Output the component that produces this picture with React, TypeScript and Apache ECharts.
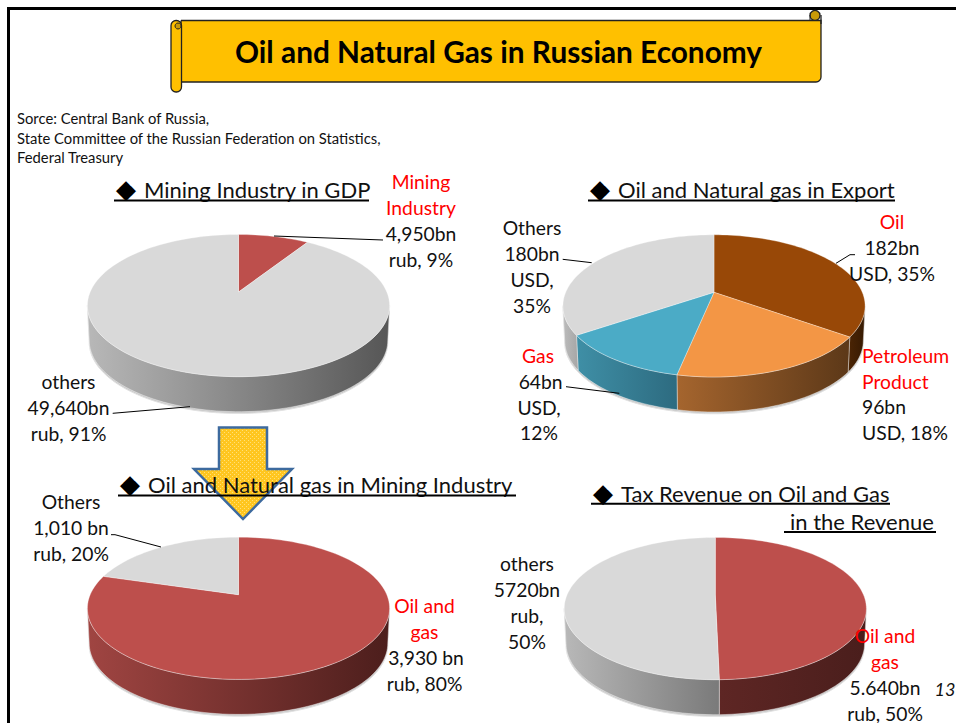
import React, { useEffect, useRef } from "react";
import * as echarts from "echarts";

// ---------- data ----------
const gdpValues = [4950, 49640];
const exportValues = [182, 96, 64, 180];
const miningValues = [3930, 1010];
const taxValues = [5640, 5720];

const titleText = "Oil and Natural Gas in Russian Economy";
const sourceLines = [
  "Sorce: Central Bank of Russia,",
  "State Committee of the Russian Federation on Statistics,",
  "Federal Treasury",
];
const pageNumber = "13";

const FONT = "Lato, Carlito, 'Open Sans', sans-serif";
const RED = "#ff0000";
const BLACK = "#111111";

// ---------- styling and layout ----------
const GEOM = { s: 148.3, k: 68.5, p: 0.191, depth: 35 };
const pies = [
  {
    name: "Mining Industry in GDP", values: gdpValues, ax: 238.5, ay: 292,
    top: ["#bd4f4c", "#d9d9d9"],
    side: [["#9a3f3c", "#4c1e1c"], ["#b8b8b8", "#565656"]],
  },
  {
    name: "Oil and Natural gas in Export", values: exportValues, ax: 714, ay: 292.3,
    top: ["#984807", "#f39645", "#4babc6", "#d9d9d9"],
    side: [["#4a2404", "#361a02"], ["#a5652e", "#5c3818"], ["#3f8fa6", "#2d6b80"], ["#bcbcbc", "#a8a8a8"]],
  },
  {
    name: "Oil and Natural gas in Mining Industry", values: miningValues, ax: 238.5, ay: 594.7,
    top: ["#bd4f4c", "#d9d9d9"],
    side: [["#a04542", "#4c1e1c"], ["#b8b8b8", "#565656"]],
  },
  {
    name: "Tax Revenue on Oil and Gas", values: taxValues, ax: 715.3, ay: 595,
    top: ["#bd4f4c", "#d9d9d9"],
    side: [["#5e2624", "#4a1e1c"], ["#b8b8b8", "#7a7a7a"]],
  },
];

type Lbl = [string, number, number, string?, string?];
const labels: Lbl[] = [
  ["Mining", 421, 182, RED], ["Industry", 421, 208, RED], ["4,950bn", 421, 234], ["rub, 9%", 421, 260],
  ["others", 68.5, 382], ["49,640bn", 68.5, 408], ["rub, 91%", 68.5, 434],
  ["Others", 532, 228], ["180bn", 532, 254], ["USD,", 532, 280], ["35%", 532, 306],
  ["Oil", 892, 222, RED], ["182bn", 892, 248], ["USD, 35%", 892, 274],
  ["Petroleum", 862, 356, RED, "left"], ["Product", 862, 381.6, RED, "left"], ["96bn", 862, 407, BLACK, "left"], ["USD, 18%", 862, 433, BLACK, "left"],
  ["Gas", 538, 356, RED], ["64bn", 540.6, 382], ["USD,", 539, 408], ["12%", 539, 433],
  ["Others", 71, 501.7], ["1,010 bn", 71, 527.5], ["rub, 20%", 71, 553.5],
  ["Oil and", 424.5, 605.7, RED], ["gas", 424.5, 631.5, RED], ["3,930 bn", 426, 657.5], ["rub, 80%", 424.5, 683.5],
  ["others", 527, 563.7], ["5720bn", 527, 590], ["rub,", 527, 616], ["50%", 527, 641.5],
  ["Oil and", 885, 635.7, RED], ["gas", 885, 661.5, RED], ["5.640bn", 885, 687.5], ["rub, 50%", 885, 713.5],
];

// text, text x, y, diamond centre x (0 = none), underline from, underline to, underline y
const headings: [string, number, number, number, number, number, number][] = [
  ["Mining Industry in GDP", 144, 190, 126, 114, 369, 200.5],
  ["Oil and Natural gas in Export", 618, 190, 600, 588, 895, 200.5],
  ["Oil and Natural gas in Mining Industry", 148, 485, 130, 118, 516, 495.5],
  ["Tax Revenue on Oil and Gas", 621, 493.7, 603, 591, 890, 503.7],
  ["in the Revenue", 790, 522, 0, 784, 936, 532],
];

const leaders: number[][][] = [
  [[274, 236], [383, 240]],
  [[112.7, 413.3], [190, 406.7]],
  [[562.7, 259.3], [591.7, 262.7]],
  [[855, 254.7], [850, 254.7], [836, 263.3]],
  [[566, 386.7], [619.3, 393.3]],
  [[111, 534.7], [115, 534.7], [161, 547]],
];

function rim(ax: number, ay: number, deg: number) {
  const t = (deg * Math.PI) / 180;
  const X = Math.sin(t), Y = Math.cos(t);
  const d = 1 + GEOM.p * Y;
  return [ax + (GEOM.s * X) / d, ay - (GEOM.k * Y) / d];
}
function arc(ax: number, ay: number, a: number, b: number) {
  const pts: number[][] = [];
  const n = Math.max(2, Math.ceil((b - a) / 2));
  for (let i = 0; i <= n; i++) pts.push(rim(ax, ay, a + ((b - a) * i) / n));
  return pts;
}
function lowered(ax: number, pts: number[][]) {
  return pts.map(([x, y]) => [ax + (x - ax) * 0.988, y + GEOM.depth]);
}

const SIDE_FROM = (Math.acos(-GEOM.p) * 180) / Math.PI;
const SIDE_TO = 360 - SIDE_FROM;

function makeRender(pie: (typeof pies)[number]) {
  const total = pie.values.reduce((a, b) => a + b, 0);
  return (params: any) => {
    const i = params.dataIndex;
    const before = pie.values.slice(0, i).reduce((a, b) => a + b, 0);
    const a = (before / total) * 360;
    const b = ((before + pie.values[i]) / total) * 360;
    const children: any[] = [];
    if (i === 0) {
      const front = arc(pie.ax, pie.ay, SIDE_FROM, SIDE_TO);
      const low = lowered(pie.ax, front).map(([x, y]) => [x, y + 1.8]);
      children.push({
        type: "polygon",
        shape: { points: [...front, ...low.reverse()] },
        style: { fill: "#c9c9c9", stroke: "#e2e2e2", lineWidth: 1 },
      });
    }
    const sa = Math.max(a, SIDE_FROM), sb = Math.min(b, SIDE_TO);
    if (sb > sa) {
      const upper = arc(pie.ax, pie.ay, sa, sb);
      const lower = lowered(pie.ax, upper);
      const xs = upper.map((p) => p[0]);
      const [c0, c1] = pie.side[i];
      children.push({
        type: "polygon",
        shape: { points: [...upper, ...lower.slice().reverse()] },
        style: {
          fill: {
            type: "linear", x: Math.min(...xs), y: 0, x2: Math.max(...xs), y2: 0, global: true,
            colorStops: [{ offset: 0, color: c0 }, { offset: 1, color: c1 }],
          },
          stroke: "rgba(255,255,255,0.55)", lineWidth: 0.7,
        },
      });
    }
    children.push({
      type: "polygon",
      shape: { points: [[pie.ax, pie.ay], ...arc(pie.ax, pie.ay, a, b)] },
      style: { fill: pie.top[i], stroke: "rgba(255,255,255,0.45)", lineWidth: 0.7 },
    });
    return { type: "group", children };
  };
}

function dotPattern() {
  const c = document.createElement("canvas");
  c.width = 4; c.height = 4;
  const g = c.getContext("2d")!;
  g.fillStyle = "#ffc61f";
  g.fillRect(0, 0, 4, 4);
  g.fillStyle = "#ffe07a";
  g.fillRect(0, 0, 1, 1);
  g.fillRect(2, 2, 1, 1);
  return c;
}

export default function App() {
  const ref = useRef<HTMLDivElement>(null);
  useEffect(() => {
    document.body.style.margin = "0";
    const chart = echarts.init(ref.current!, undefined, { renderer: "svg" });
    const line = "#222222";
    const graphics: any[] = [];
    // page frame
    graphics.push({ type: "line", z: 5, shape: { x1: 8.5, y1: 8.5, x2: 956, y2: 8.5 }, style: { stroke: "#000", lineWidth: 3 } });
    graphics.push({ type: "line", z: 5, shape: { x1: 8.5, y1: 7, x2: 8.5, y2: 723 }, style: { stroke: "#000", lineWidth: 3 } });
    // banner
    graphics.push({ type: "circle", z: 6, shape: { cx: 815, cy: 15.5, r: 5 }, style: { fill: "#c99a08", stroke: line, lineWidth: 1.3 } });
    graphics.push({ type: "rect", z: 6, shape: { x: 181, y: 20.5, width: 640, height: 61.5, r: [0, 0, 5, 0] }, style: { fill: "#ffc000", stroke: line, lineWidth: 1.3 } });
    graphics.push({ type: "line", z: 6, shape: { x1: 810, y1: 15, x2: 810, y2: 20 }, style: { stroke: line, lineWidth: 1 } });
    graphics.push({ type: "line", z: 6, shape: { x1: 821, y1: 15, x2: 821, y2: 24 }, style: { stroke: line, lineWidth: 1.3 } });
    graphics.push({ type: "rect", z: 7, shape: { x: 171, y: 20.5, width: 10.5, height: 71.5, r: 5 }, style: { fill: "#ffc000", stroke: line, lineWidth: 1.3 } });
    graphics.push({ type: "circle", z: 7, shape: { cx: 178, cy: 26, r: 3 }, style: { fill: "#c99a08", stroke: line, lineWidth: 1 } });
    graphics.push({ type: "text", z: 8, style: { x: 498.5, y: 51.5, text: titleText, align: "center", verticalAlign: "middle", fill: "#000", fontFamily: FONT, fontWeight: 700, fontSize: 29.8 } });
    // source
    sourceLines.forEach((t, i) => {
      graphics.push({ type: "text", z: 8, style: { x: 17, y: 118 + i * 19.7, text: t, align: "left", verticalAlign: "middle", fill: BLACK, fontFamily: FONT, fontSize: 14.8 } });
    });
    // arrow
    graphics.push({
      type: "polygon", z: 8,
      shape: { points: [[219, 427.5], [267, 427.5], [267, 469], [292, 469], [243, 519], [194, 469], [219, 469]] },
      style: { fill: { image: dotPattern(), repeat: "repeat" }, stroke: "#3d6a9e", lineWidth: 2.5 },
    });
    // headings
    headings.forEach(([t, x, y, dx, u0, u1, uy]) => {
      if (dx) graphics.push({ type: "text", z: 9, style: { x: dx, y: y - 1, text: "◆", align: "center", verticalAlign: "middle", fill: "#000", fontFamily: "'DejaVu Sans'", fontSize: 26 } });
      graphics.push({ type: "text", z: 9, style: { x, y: y - 0.5, text: t, align: "left", verticalAlign: "middle", fill: BLACK, fontFamily: FONT, fontSize: 22 } });
      graphics.push({ type: "line", z: 9, shape: { x1: u0, y1: uy, x2: u1, y2: uy }, style: { stroke: "#000", lineWidth: 2 } });
    });
    // leader lines
    leaders.forEach((pts) => {
      graphics.push({ type: "polyline", z: 9, shape: { points: pts }, style: { stroke: "#000", lineWidth: 1, fill: "none" } });
    });
    // labels
    labels.forEach(([t, x, y, color, align]) => {
      graphics.push({ type: "text", z: 10, style: { x, y: y - 0.5, text: t, align: align || "center", verticalAlign: "middle", fill: color || BLACK, fontFamily: FONT, fontSize: 19.3 } });
    });
    graphics.push({ type: "text", z: 10, style: { x: 955.5, y: 689, text: pageNumber, align: "right", verticalAlign: "middle", fill: BLACK, fontFamily: FONT, fontStyle: "italic", fontSize: 18 } });

    chart.setOption({
      animation: false,
      backgroundColor: "#ffffff",
      series: pies.map((pie) => ({
        type: "custom",
        name: pie.name,
        coordinateSystem: "none",
        silent: true,
        data: pie.values,
        renderItem: makeRender(pie),
      })),
      graphic: { elements: graphics },
    });
    return () => chart.dispose();
  }, []);
  return <div ref={ref} style={{ position: "absolute", left: 0, top: 0, width: 956, height: 723 }} />;
}
